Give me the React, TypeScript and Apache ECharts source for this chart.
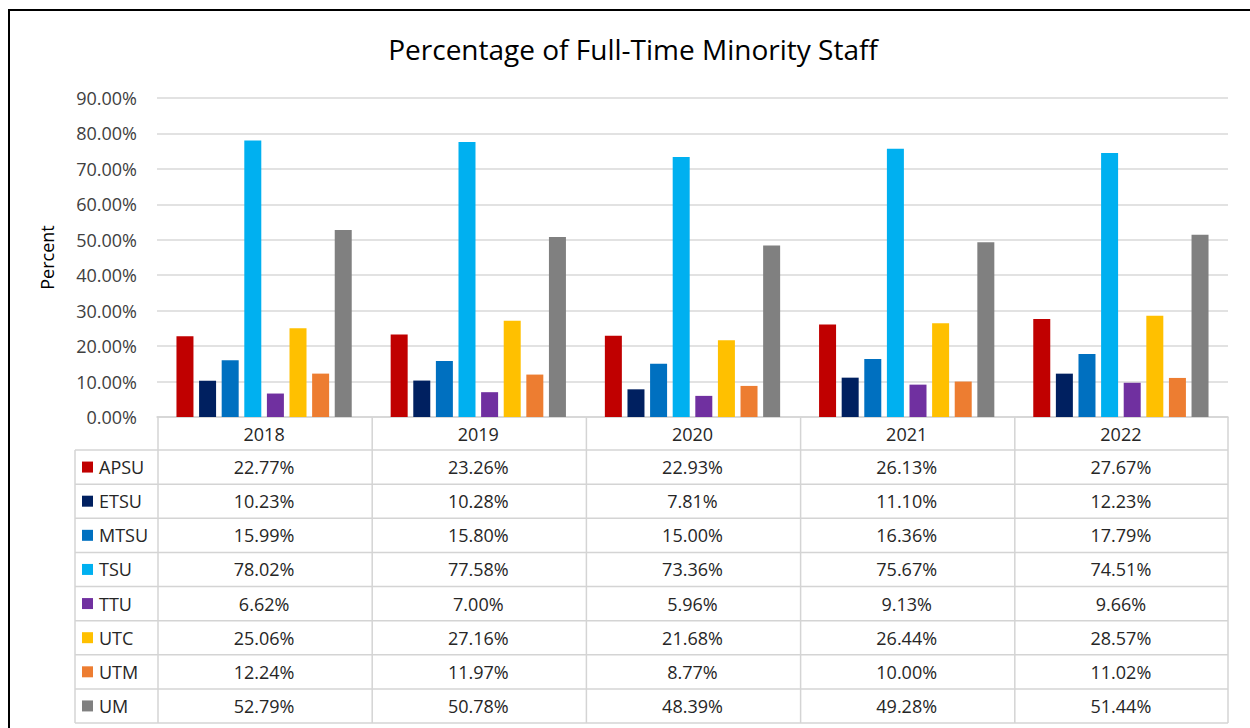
import React, { useEffect, useRef } from "react";
import * as echarts from "echarts";

const years = ["2018", "2019", "2020", "2021", "2022"];
const schools = ["APSU", "ETSU", "MTSU", "TSU", "TTU", "UTC", "UTM", "UM"];
const colors = ["#C00000", "#002060", "#0070C0", "#00B0F0", "#7030A0", "#FFC000", "#ED7D31", "#808080"];
const APSU = [22.77, 23.26, 22.93, 26.13, 27.67];
const ETSU = [10.23, 10.28, 7.81, 11.1, 12.23];
const MTSU = [15.99, 15.8, 15.0, 16.36, 17.79];
const TSU = [78.02, 77.58, 73.36, 75.67, 74.51];
const TTU = [6.62, 7.0, 5.96, 9.13, 9.66];
const UTC = [25.06, 27.16, 21.68, 26.44, 28.57];
const UTM = [12.24, 11.97, 8.77, 10.0, 11.02];
const UM = [52.79, 50.78, 48.39, 49.28, 51.44];
const seriesValues = [APSU, ETSU, MTSU, TSU, TTU, UTC, UTM, UM];
const yTicks = { min: 0, max: 90, interval: 10 };

const FONT = "'Open Sans', 'Noto Sans', sans-serif";

export default function App() {
  const ref = useRef<HTMLDivElement>(null);
  useEffect(() => {
    if (!ref.current) return;
    const chart = echarts.init(ref.current, null, { renderer: "svg" });

    const gLeft = 157;
    const gRight = 1228;
    const gTop = 98;
    const gBottom = 417;
    const colW = (gRight - gLeft) / years.length;
    const legLeft = 75;
    const headBottom = 450;
    const tableBottom = 723;
    const rowH = (tableBottom - headBottom) / schools.length;
    const lineColor = "#d4d4d4";
    const cellFont = `18px ${FONT}`;

    const graphics: any[] = [];
    graphics.push({
      type: "rect",
      shape: { x: 9, y: 10, width: 1260, height: 740 },
      style: { fill: "none", stroke: "#000", lineWidth: 2 },
      silent: true,
    });
    for (let i = 0; i <= schools.length; i++) {
      const y = headBottom + rowH * i;
      graphics.push({
        type: "line",
        shape: { x1: legLeft, y1: y, x2: gRight, y2: y },
        style: { stroke: lineColor, lineWidth: 1.5 },
        silent: true,
      });
    }
    graphics.push({
      type: "line",
      shape: { x1: legLeft, y1: headBottom, x2: legLeft, y2: tableBottom },
      style: { stroke: lineColor, lineWidth: 1.5 },
      silent: true,
    });
    for (let j = 0; j <= years.length; j++) {
      const x = gLeft + 1 + colW * j - (j === years.length ? 1 : 0);
      graphics.push({
        type: "line",
        shape: { x1: x, y1: gBottom, x2: x, y2: tableBottom },
        style: { stroke: lineColor, lineWidth: 1.5 },
        silent: true,
      });
    }
    schools.forEach((s, i) => {
      const cy = headBottom + rowH * (i + 0.5);
      graphics.push({
        type: "rect",
        shape: { x: 82, y: cy - 5.5, width: 11, height: 11 },
        style: { fill: colors[i] },
        silent: true,
      });
      graphics.push({
        type: "text",
        x: 99,
        y: cy,
        style: {
          text: s,
          font: cellFont,
          fill: "#262626",
          textAlign: "left",
          textVerticalAlign: "middle",
        },
        silent: true,
      });
      seriesValues[i].forEach((v, j) => {
        graphics.push({
          type: "text",
          x: gLeft + colW * (j + 0.5),
          y: cy,
          style: {
            text: `${v.toFixed(2)}%`,
            font: cellFont,
            fill: "#262626",
            textAlign: "center",
            textVerticalAlign: "middle",
          },
          silent: true,
        });
      });
    });

    chart.setOption({
      animation: false,
      title: {
        text: "Percentage of Full-Time Minority Staff",
        left: 628,
        top: 30,
        textAlign: "center",
        textStyle: { fontFamily: FONT, fontSize: 28, fontWeight: "normal", color: "#000" },
      },
      grid: { left: gLeft, right: 1250 - gRight, top: gTop, bottom: 728 - gBottom, containLabel: false },
      xAxis: {
        type: "category",
        data: years,
        axisLine: { show: true, lineStyle: { color: lineColor, width: 1.5 } },
        axisTick: { show: false },
        axisLabel: { fontFamily: FONT, fontSize: 18, color: "#262626", margin: 8 },
      },
      yAxis: {
        type: "value",
        min: yTicks.min,
        max: yTicks.max,
        interval: yTicks.interval,
        name: "Percent",
        nameLocation: "middle",
        nameRotate: 90,
        nameGap: 101,
        nameTextStyle: { fontFamily: FONT, fontSize: 18, color: "#000" },
        axisLine: { show: false },
        axisTick: { show: false },
        axisLabel: {
          fontFamily: FONT,
          fontSize: 18,
          color: "#404040",
          margin: 20,
          formatter: (v: number) => `${v.toFixed(2)}%`,
        },
        splitLine: { lineStyle: { color: "#d9d9d9", width: 1.5 } },
      },
      series: schools.map((s, i) => ({
        name: s,
        type: "bar",
        data: seriesValues[i],
        barWidth: 17,
        barGap: "33%",
        itemStyle: { color: colors[i] },
      })),
      graphic: graphics,
    });
    return () => chart.dispose();
  }, []);
  return (
    <div
      ref={ref}
      style={{ position: "fixed", left: 0, top: 0, width: 1250, height: 728, background: "#fff" }}
    />
  );
}
